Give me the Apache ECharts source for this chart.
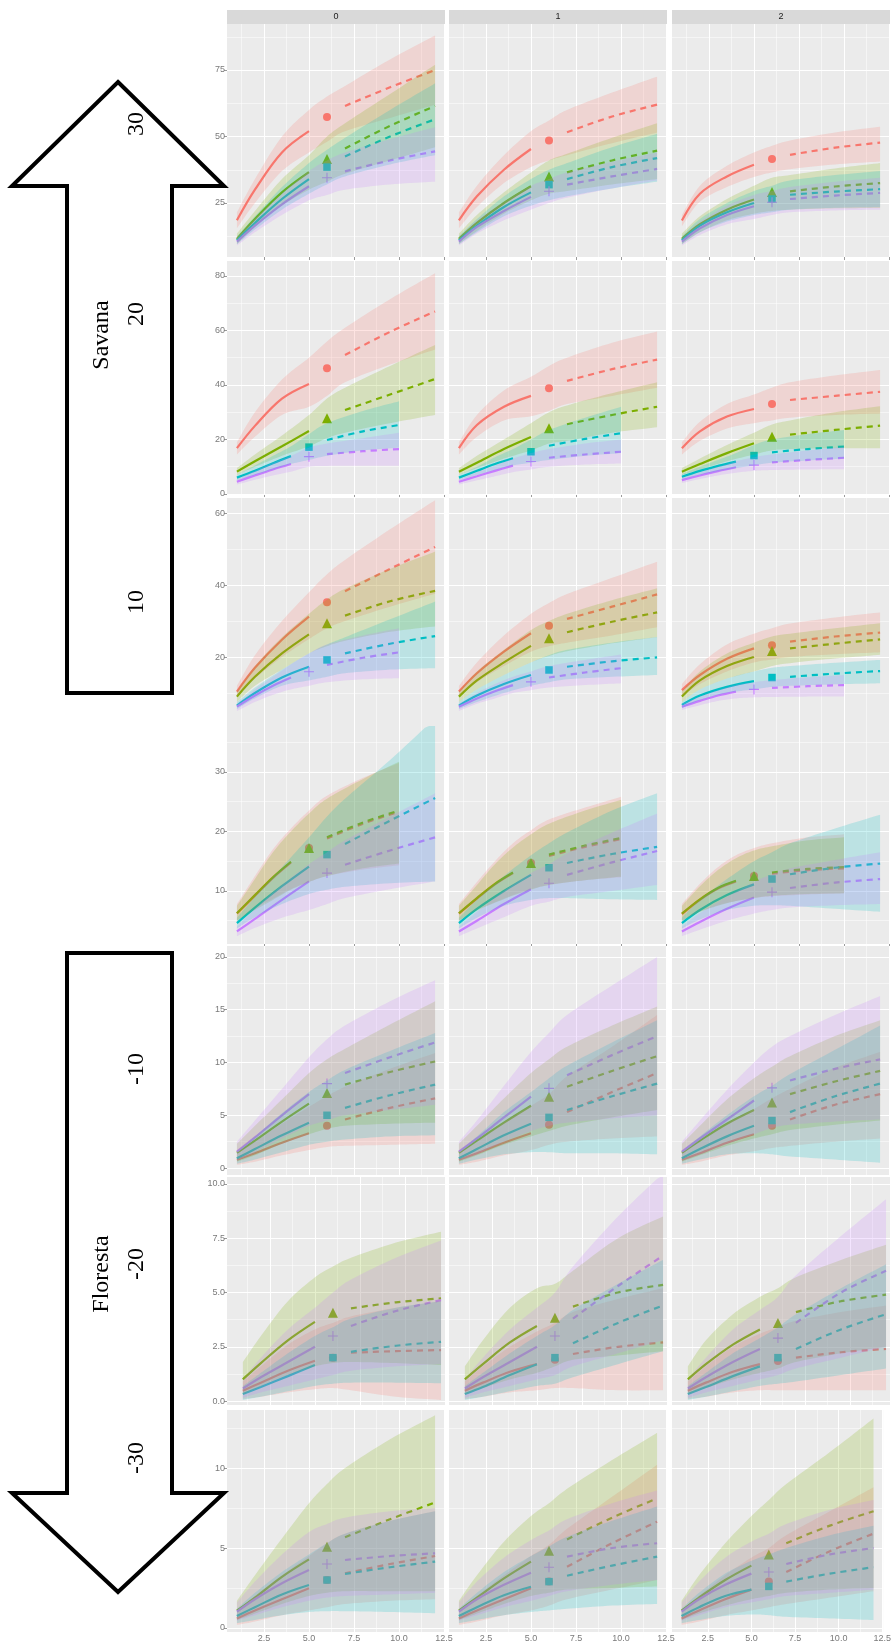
<!DOCTYPE html>
<html><head><meta charset="utf-8">
<script src="https://cdn.jsdelivr.net/npm/echarts@6/dist/echarts.min.js"></script>
<style>html,body{margin:0;padding:0;background:#fff}#c{width:894px;height:1652px}</style>
</head><body><div id="c"></div>
<script>
// ---------- data ----------
const facetLabels = ['0', '1', '2'];
const xTicks = [2.5, 5, 7.5, 10, 12.5];
const xMinorTicks = [1.25, 3.75, 6.25, 8.75, 11.25];
const yTicks = [[25,50,75],[0,20,40,60,80],[20,40,60],[10,20,30],[0,5,10,15,20],[0,2.5,5,7.5,10],[0,5,10]];
const yMinorTicks = [[12.5,37.5,62.5,87.5],[10,30,50,70],[10,30,50],[5,15,25,35],[2.5,7.5,12.5,17.5],[1.25,3.75,6.25,8.75],[2.5,7.5,12.5]];
// sample sizes (x positions) for reference size 6 and 5: interp | observed | extrap
const xs6 = [1, 2, 3.5, 5, 6, 7, 9.5, 12];
const xs5 = [1, 2, 3, 4, 5, 6, 8, 10];
// reference sample size per panel [red, green, cyan, purple]
const refSize = [
 [6,6,6,6],[6,6,6,6],[6,6,6,6],
 [6,6,5,5],[6,6,5,5],[6,6,5,5],
 [6,6,6,5],[6,6,6,5],[6,6,6,5],
 [5,5,6,6],[5,5,6,6],[5,5,6,6],
 [6,6,6,6],[6,6,6,6],[6,6,6,6],
 [6,6,6,6],[6,6,6,6],[6,6,6,6],
 [6,6,6,6],[6,6,6,6],[6,6,6,6]
];
const redEst = [
 [18.5,30,44,52,57.3,61.5,68.5,75],[18.5,27.5,37.5,45.3,48.5,51.6,57.5,62],[18.4,28.5,35,39.4,41.5,43.1,45.8,47.7],
 [16.8,25,35,40.4,46.1,51,59.5,67],[16.8,25.3,32,36,38.8,41.5,45.8,49.3],[16.8,23,28.4,31.2,33,34.5,36,37.5],
 [10.4,17,24.8,31.2,35.2,38.3,44.5,50.6],[10.4,15.5,21.5,26.6,28.7,30.6,34,37.4],[10.8,15,19.5,22.4,23.3,24.3,25.7,26.8],
 [6.2,9.2,12.2,14.8,17.2,18.8,21.3,23.3],[6.2,8.7,11.1,13,14.7,15.9,17.4,18.7],[6.1,8.5,10.4,11.6,12.5,12.9,13.5,13.8],
 [0.79,1.4,2.4,3.3,4,4.6,5.7,6.6],[0.79,1.4,2.4,3.3,4.1,5.3,7.2,9],[0.79,1.4,2.4,3.2,4,4.6,6,7],
 [0.48,0.85,1.4,1.86,2,2.23,2.3,2.35],[0.48,0.85,1.35,1.7,1.9,2.17,2.5,2.7],[0.48,0.85,1.35,1.7,1.85,2,2.25,2.4],
 [0.6,1.1,1.8,2.48,3,3.42,4,4.5],[0.6,1.1,1.8,2.48,2.9,3.83,5.3,6.65],[0.6,1.1,1.8,2.4,2.9,3.5,4.8,5.9]
];
const redLo = [
 [15.5,25,37,44,48,52,57,62],[15.5,23.5,32.5,38.5,41,43,47.5,51.5],[16.3,25.5,31,34.8,36.5,37.7,39.5,40.6],
 [14.5,21,29,32,36,41,47.5,53],[14.5,21,27,28.5,30.5,33,36,39],[14.5,19.5,24,26,27,28,29,29.5],
 [8.8,14,20,25,28,30,34,37.6],[9,13,17.5,21.5,23,24,26,28.3],[9,12.5,16,18.5,19.3,20,20.8,21.3],
 [5,7,8.7,10.3,11.5,12.5,13.6,14.3],[5,6.8,8.1,9.3,10.3,11,11.8,12.3],[5,6.5,7.6,8.3,8.8,9.1,9.4,9.6],
 [0.3,0.6,1.2,1.7,2,2.1,2.2,2.3],[0.3,0.6,1.2,1.7,2.2,2.5,2.8,3],[0.3,0.6,1.2,1.6,1.9,2.1,2.5,2.8],
 [0.1,0.2,0.4,0.55,0.6,0.5,0.2,0.05],[0.1,0.2,0.4,0.5,0.6,0.6,0.5,0.5],[0.1,0.2,0.4,0.5,0.5,0.5,0.5,0.5],
 [0.2,0.4,0.8,1.1,1.3,1.5,1.7,1.8],[0.2,0.4,0.8,1.1,1.4,1.8,2.4,3],[0.2,0.4,0.8,1.1,1.3,1.5,1.9,2.3]
];
const redHi = [
 [21.5,34,50,60,65,69,79,88],[21.5,31.5,43,52,56,60,66.5,72.5],[20.5,31.5,39,44,46.5,48.5,51.5,53.7],
 [19,30,42,50,56,61,71.5,81],[19,29,38,43,47,50,55.5,59.6],[19,26.5,33,36.5,39,41,43.5,45.5],
 [12,20.5,30,38,43,47,55.5,63.6],[12,18.5,26,32,35,37.5,42,46.5],[12.5,18,23.5,26.5,28,29.3,31,32.4],
 [7.8,12.5,17,20.5,23.5,26,29,31.5],[7.8,11.5,15,18,20.2,22,24,25.8],[7.8,11.2,14,16,17.2,18,19,19.5],
 [1.4,2.5,4.2,5.8,6.8,7.7,9.4,10.9],[1.4,2.5,4.3,5.9,7,8.7,11.5,14.5],[1.4,2.5,4.2,5.6,6.6,7.5,9.5,11],
 [0.9,1.6,2.6,3.3,3.6,3.9,4.3,4.6],[0.9,1.6,2.5,3.2,3.6,4.1,4.7,5.2],[0.9,1.6,2.5,3.1,3.4,3.7,4.1,4.4],
 [1,2,3.3,4.5,5.3,5.9,6.7,7.3],[1,2,3.3,4.5,5.2,6.2,8.2,10.2],[1,2,3.3,4.4,5,5.8,7.3,8.8]
];
const greenEst = [
 [11.5,19,29,36.6,41.5,45.5,54,61.5],[11.5,17.5,25,31.3,35,36.5,41,44.7],[11.5,17,22.5,26.3,29.1,29.4,31.2,32.5],
 [8.2,12,17.5,23.1,27.8,30.8,36.5,42.2],[8.2,11.5,16.5,20.9,24.1,25.6,29,32],[8.2,11,15,18.6,21,21.8,23.5,25.1],
 [9,14.5,21,26.3,29.4,31.5,35.5,38.4],[9,13.5,18.5,23.1,25.2,26.9,29.8,32.4],[9,13.5,17.5,20,21.7,22.4,23.7,24.9],
 [6.25,9.3,12.3,14.9,17.2,19,21.5,23.5],[6.25,8.8,11.2,13.1,14.7,16.1,17.6,18.9],[6.2,8.6,10.5,11.7,12.5,13.1,13.7,14],
 [1.45,2.6,4.4,6.1,7.1,7.9,9.1,10.1],[1.45,2.6,4.3,5.9,6.76,7.7,9.2,10.6],[1.45,2.6,4.2,5.5,6.2,7,8.2,9.2],
 [1,1.75,2.8,3.65,4.07,4.27,4.55,4.73],[1,1.7,2.7,3.46,3.84,4.35,5,5.35],[1,1.7,2.6,3.3,3.6,4.1,4.6,4.9],
 [1.08,1.9,3.2,4.29,5.08,5.67,6.8,7.85],[1.08,1.9,3.1,4.15,4.83,5.54,6.9,8.1],[1.08,1.9,3,3.9,4.6,5.3,6.4,7.3]
];
const greenLo = [
 [9.5,16,24,30,33,36,41,46],[9.5,14.5,21,26,28.5,29.5,32,34],[9.5,14,18.5,21,22,22.5,23,23.1],
 [7,10,14,17.5,20.5,22.5,26,29],[7,9.5,13,16,18.5,19.5,22.5,24.5],[7,9,12,14.5,16,16.5,16.8,16.8],
 [7.5,12,16.5,21,23,24.5,27,28.5],[7.5,11,15,18.5,20.3,21.6,23.8,25.5],[7.5,11,14,16,17.5,18.3,19.6,20.6],
 [5,6.8,8.5,10.2,11.5,12.5,13.8,14.6],[5,6.7,8,9.2,10.2,11,11.8,12.4],[5,6.5,7.5,8.3,8.8,9.2,9.5,9.6],
 [0.6,1.2,2.3,3.2,3.7,4,4.2,4.3],[0.6,1.2,2.2,3,3.5,4,4.8,5.5],[0.6,1.2,2.1,2.8,3.2,3.6,4.1,4.5],
 [0.3,0.7,1.2,1.6,1.75,1.8,1.75,1.66],[0.3,0.6,1,1.3,1.6,1.9,2.1,2.3],[0.3,0.6,1,1.3,1.5,1.8,2.2,2.5],
 [0.5,0.9,1.5,2,2.2,2.3,2.3,2.3],[0.5,0.9,1.5,2,2.2,2.4,2.5,2.6],[0.5,0.9,1.4,1.8,2,2.2,2.4,2.5]
];
const greenHi = [
 [13.5,22,34,43,50,55,66,77],[13.5,20.5,29,36.5,41,43.5,49.5,55],[13.5,20,26.5,31.5,34.5,35.5,38,40],
 [9.5,14.5,21.5,29,35,39,47,54.7],[9.5,14,20,26,30,32.5,37,41],[9.5,13,18,22.5,25.5,27,30,32.2],
 [10.5,17.5,25.5,32,36,39,44.5,49.3],[10.5,16,22,27.5,30,32,35.8,39.1],[10.5,16,21,24,25.7,26.5,28,29.4],
 [7.5,12,16.5,20,23,25.5,28.8,31.7],[7.5,11,14.5,17.3,19.5,21.3,23.5,25.3],[7.5,10.8,13.5,15.5,16.8,17.5,18.5,19],
 [2.3,4,6.5,9,10.3,11.3,13.6,15.8],[2.3,4,6.6,9,10.3,11.5,13.5,15.3],[2.3,4,6.5,8.5,9.6,10.6,12.5,14],
 [1.8,3,4.6,5.7,6.2,6.6,7.3,7.8],[1.6,2.8,4.3,5.2,5.4,6,7.5,8.5],[1.6,2.8,4,4.8,5.2,5.7,6.5,7.2],
 [1.7,3.3,5.6,7.8,9,10,11.8,13.3],[1.7,3.3,5.4,7,7.8,8.7,10.5,12.2],[1.7,3.3,5.3,7,8,9,11,13.1]
];
const cyanEst = [
 [11,17.5,26.5,34,38.5,42.5,50,56.5],[11,16.5,23.5,29,31.9,34,38.5,41.9],[11,16.5,21.5,25,26.5,28.1,29.3,30.2],
 [6,8.5,11.3,13.9,17.2,19.8,23,25.3],[6,8.5,11,13.1,15.5,17.7,20.2,22.3],[6.3,8.5,10.3,11.9,14.1,15.3,16.5,17.4],
 [6.5,10,14.3,17.3,19.2,21,23.7,25.8],[6.5,9.3,12.5,15,16.4,17.3,18.8,19.9],[6.7,9.3,11.7,13.3,14.3,14.5,15.4,16.1],
 [4.6,7.2,10.8,14.1,16.1,17.9,21.8,25.6],[4.6,7,10,12.7,13.9,14.7,16.2,17.4],[4.6,6.8,9.3,11.1,12,12.8,13.9,14.6],
 [0.92,1.8,3.1,4.3,5,5.7,6.9,7.9],[0.92,1.8,3.1,4.2,4.8,5.5,6.8,8],[0.92,1.8,3,4,4.5,5.3,6.8,8],
 [0.33,0.65,1.15,1.66,2,2.27,2.55,2.73],[0.33,0.65,1.2,1.7,2,2.66,3.6,4.4],[0.33,0.65,1.15,1.6,2,2.4,3.3,4],
 [0.75,1.3,2.1,2.69,3,3.38,3.8,4.15],[0.75,1.3,2.05,2.58,2.9,3.27,3.9,4.46],[0.75,1.3,2,2.4,2.6,2.9,3.4,3.8]
];
const cyanLo = [
 [9.5,15,22.5,28.5,32,35,39.5,43],[9.5,14,20,24,26,27.5,30.5,33],[9.5,14,18,20.5,21.5,22.5,23.2,23.5],
 [5,7,9,11,12.5,14,16,17],[5,7,8.8,10.5,11.5,12.5,14,15],[5.3,7,8.3,9.5,10.5,11.5,12.3,13],
 [5.5,8.5,12,13.5,14.5,15.5,16.5,16.9],[5.5,7.5,10,12,13,13.8,14.5,15],[5.8,8,10,11,11.7,12,12.4,12.7],
 [3.7,5.6,7.8,9.5,10.2,10.7,11.3,11.6],[3.7,5.5,7.5,8.5,8.8,8.8,8.6,8.5],[3.7,5.2,6.8,7.5,7.6,7.5,7,6.5],
 [0.4,0.8,1.5,2.2,2.5,2.7,3,3.1],[0.4,0.8,1.3,1.5,1.5,1.4,1.4,1.3],[0.4,0.8,1.3,1.4,1.3,1.1,0.8,0.5],
 [0.05,0.2,0.45,0.7,0.8,0.85,0.85,0.82],[0.05,0.2,0.45,0.7,0.8,1.1,1.7,2.3],[0.05,0.2,0.45,0.7,0.8,0.9,1.2,1.5],
 [0.3,0.5,0.8,1,1.05,1.05,1,0.92],[0.3,0.5,0.8,1,1.1,1.2,1.4,1.5],[0.3,0.5,0.75,0.85,0.8,0.7,0.6,0.5]
];
const cyanHi = [
 [12.5,20,31,40,45,49.5,60,70],[12.5,19,27.5,34,37.5,40,46,51],[12.5,19,25,29.5,31.5,33.5,35.5,37],
 [7,10.5,14,17.5,22,26,30.5,34],[7,10,13.5,16.5,20,23.5,28,32],[7.3,10,12.5,15,18,20,22,23.5],
 [7.5,11.5,16.5,21,23.5,25.5,30.5,35.4],[7.5,11,15,18.5,20.5,22,24,25.6],[7.5,11,14,16,17,17.5,18.4,19.2],
 [5.5,9,14,19,22.5,25.5,32,39],[5.5,8.5,12.5,16,18,19.8,23.5,26.4],[5.5,8.5,12,15,16.5,18,20.5,22.8],
 [1.6,3,5.2,7.2,8.3,9.3,11.1,12.8],[1.6,3,5.3,7.2,8.5,9.7,11.9,14],[1.6,3,5,6.8,7.8,8.9,11.2,13.5],
 [0.7,1.3,2.2,3,3.4,3.8,4.3,4.6],[0.7,1.3,2.2,3,3.5,4.2,5.4,6.5],[0.7,1.3,2.2,2.9,3.4,4,5.2,6.3],
 [1.2,2.2,3.5,4.6,5.3,5.9,6.7,7.3],[1.2,2.2,3.5,4.5,5.1,5.7,6.7,7.6],[1.2,2.2,3.4,4.2,4.6,5,5.8,6.4]
];
const purpleEst = [
 [10.5,16.5,24.5,31.3,34.5,36.9,41,44.4],[10.5,16,22,27.3,29.4,31.9,35,37.8],[10.5,15.5,20.5,23.8,25.3,26.5,27.8,28.8],
 [4.5,6.8,9,11,13.7,14.6,15.7,16.5],[4.5,6.5,8.5,10.4,11.9,13.3,14.5,15.5],[5.1,6.8,8.4,9.8,10.6,11.6,12.5,13.3],
 [6.2,9.3,12,14.3,15.9,17.8,19.8,21.3],[6.2,8.5,10.5,12.2,13.1,14.3,15.7,16.9],[6.2,7.8,9.3,10.4,11,11.4,11.9,12.2],
 [3.2,5.3,8.5,11.6,13,14.4,16.8,19],[3.2,5,7.8,10.3,11.3,12.7,14.8,16.7],[3.2,4.8,7,8.9,9.8,10.5,11.4,12],
 [1.55,2.9,5,7,8,9,10.5,11.9],[1.55,2.8,4.8,6.76,7.55,8.8,10.7,12.5],[1.55,2.8,4.6,6.4,7.6,8.3,9.4,10.3],
 [0.58,1.1,1.8,2.5,3,3.46,4.15,4.65],[0.58,1.1,1.8,2.5,3,3.8,5.3,6.7],[0.58,1.1,1.8,2.4,2.9,3.6,5,6],
 [1.02,1.8,2.8,3.63,4,4.25,4.5,4.67],[1.02,1.8,2.7,3.46,3.8,4.46,5,5.3],[1.02,1.8,2.7,3.4,3.5,4,4.6,5]
];
const purpleLo = [
 [9,14,20.5,26,28,30,32,33],[9,13.5,18.5,22.5,25,27,30.5,33.5],[9,13,17,19,20.5,21.5,22.2,22.5],
 [3.5,5.2,6.8,8.2,10,10.3,10.4,10.4],[3.5,5,6.5,8,9,10,10.8,11.2],[4,5.5,6.8,7.8,8.5,8.8,9,9.1],
 [5,7.5,9.5,11,12,13,13.8,14.1],[5,7,8.5,10,10.8,11.5,12.2,12.7],[5.3,6.6,7.8,8.5,8.8,8.9,9,9],
 [2.4,3.8,5.5,6.8,7.8,8.8,10.3,11.6],[2.4,3.7,5.6,7.5,8.2,9,10,11],[2.4,3.5,5,6.2,6.8,7.2,7.6,7.8],
 [0.7,1.5,2.8,4,4.5,5,5.5,6],[0.7,1.3,2.5,3.5,4,4.3,4.7,5],[0.7,1.3,2.3,3.2,3.8,4.1,4.4,4.6],
 [0.15,0.4,0.7,1,1.2,1.4,1.6,1.7],[0.15,0.4,0.7,1,1.2,1.6,2.2,2.8],[0.15,0.4,0.7,1,1.2,1.5,2,2.5],
 [0.45,0.8,1.3,1.7,1.9,2,2.1,2.2],[0.45,0.8,1.3,1.7,2,2.3,2.7,3],[0.45,0.8,1.3,1.6,1.8,2,2.2,2.4]
];
const purpleHi = [
 [12,19,28.5,37,41,44,49,53.5],[12,18.5,25.5,31.5,34,36.5,40.5,44],[12,18,24,28,29.5,31,33,34.5],
 [5.5,8.5,11.5,14,17,18.5,20.5,22.5],[5.5,8,10.5,13,15,16.5,18.5,20],[6,8,10,12,13.5,14.5,16,17.3],
 [7,11,14.5,18,21,23.5,26,28],[7,10,12.5,14.5,16,17.5,19.2,20.7],[7,9,10.8,12.3,13,13.6,14.4,15],
 [4,7,11,14.5,16.5,18.5,22.5,26.4],[4,6.5,10,13,14.5,16.3,19.8,23],[4,6.3,9,11.5,12.8,13.8,15.2,16.5],
 [2.5,4.5,7.5,10.5,12.2,13.5,15.8,17.8],[2.5,4.5,7.8,11,12.8,14.5,17.3,20],[2.5,4.5,7.4,10,11.5,12.5,14.5,16.3],
 [1,2,3.3,4.3,5,5.6,6.6,7.4],[1,2,3.3,4.3,5,6.2,8.5,10.5],[1,2,3.3,4.2,4.8,5.8,7.6,9.3],
 [1.6,2.9,4.6,6,6.5,6.9,7.3,7.5],[1.6,2.9,4.4,5.5,6.1,6.8,7.8,8.6],[1.6,2.9,4.4,5.4,5.9,6.5,7.4,8]
];

// ---------- layout ----------
const colLeft = [227, 449, 672];
const panelWidth = 218;
const rowTop = [24, 261, 498, 726, 946, 1177, 1410];
const rowBottom = [257, 495, 726, 944, 1175, 1405, 1632];
const rowYMin = [4.7, -0.37, 0.83, 1.09, -0.66, -0.18, -0.25];
const rowYMax = [92.3, 85.5, 64.2, 37.7, 21.04, 10.32, 13.63];
const rowXMin = [0.45, 0.45, 0.45, 0.45, 0.45, 0.12, 0.45];
const rowXMax = [12.55, 12.55, 12.55, 12.55, 12.55, 12.22, 12.55];

const groups = [
  {color: '#F8766D', rgb: '248,118,109', est: redEst, lo: redLo, hi: redHi, symbol: 'circle', size: 8},
  {color: '#7CAE00', rgb: '124,174,0', est: greenEst, lo: greenLo, hi: greenHi, symbol: 'triangle', size: 10},
  {color: '#00BFC4', rgb: '0,191,196', est: cyanEst, lo: cyanLo, hi: cyanHi, symbol: 'rect', size: 7.5},
  {color: '#C77CFF', rgb: '199,124,255', est: purpleEst, lo: purpleLo, hi: purpleHi, symbol: 'path://M4.45,0H5.55V10H4.45Z M0,4.45H10V5.55H0Z', size: 10}
];

// Catmull-Rom curve through pixel points (rendering of a smooth ribbon edge)
function smoothPts(pts, steps) {
  const out = [];
  const n = pts.length;
  for (let i = 0; i < n - 1; i++) {
    const p0 = pts[Math.max(i - 1, 0)], p1 = pts[i], p2 = pts[i + 1], p3 = pts[Math.min(i + 2, n - 1)];
    for (let s = 0; s < steps; s++) {
      const t = s / steps, t2 = t * t, t3 = t2 * t;
      const f = d => 0.5 * (2 * p1[d] + (-p0[d] + p2[d]) * t + (2 * p0[d] - 5 * p1[d] + 4 * p2[d] - p3[d]) * t2 + (-p0[d] + 3 * p1[d] - 3 * p2[d] + p3[d]) * t3);
      out.push([f(0), f(1)]);
    }
  }
  out.push(pts[n - 1]);
  return out;
}

const chart = echarts.init(document.getElementById('c'), null, {renderer: 'canvas'});
const grids = [], xAxes = [], yAxes = [], series = [], graphics = [];
const labelFont = 'Liberation Sans';

for (let p = 0; p < 21; p++) {
  const r = Math.floor(p / 3), c = p % 3;
  grids.push({left: colLeft[c], top: rowTop[r], width: panelWidth, height: rowBottom[r] - rowTop[r],
    show: true, backgroundColor: '#EBEBEB', borderWidth: 0, containLabel: false});
  const lastRow = r === 6;
  xAxes.push({type: 'value', gridIndex: p, min: rowXMin[r], max: rowXMax[r],
    axisLine: {show: false}, splitLine: {show: false},
    axisTick: {show: true, customValues: xTicks, length: 3, lineStyle: {color: '#9a9a9a', width: 1}},
    axisLabel: {show: lastRow, customValues: xTicks, formatter: v => v.toFixed(1), color: '#7a7a7a',
      fontSize: 9, fontFamily: labelFont, margin: 2}});
  yAxes.push({type: 'value', gridIndex: p, min: rowYMin[r], max: rowYMax[r],
    axisLine: {show: false}, splitLine: {show: false},
    axisTick: {show: c === 0, customValues: yTicks[r], length: 3, lineStyle: {color: '#9a9a9a', width: 1}},
    axisLabel: {show: c === 0, customValues: yTicks[r], formatter: v => (r === 5 ? v.toFixed(1) : String(v)),
      color: '#7a7a7a', fontSize: 9, fontFamily: labelFont, margin: 2}});
  // gridlines
  const ml = [];
  yTicks[r].forEach(v => ml.push({yAxis: v, lineStyle: {width: 1.1}}));
  yMinorTicks[r].forEach(v => ml.push({yAxis: v, lineStyle: {width: 0.5}}));
  xTicks.forEach(v => ml.push({xAxis: v, lineStyle: {width: 1.1}}));
  xMinorTicks.forEach(v => ml.push({xAxis: v, lineStyle: {width: 0.5}}));
  series.push({type: 'line', xAxisIndex: p, yAxisIndex: p, data: [], silent: true, z: 1,
    markLine: {silent: true, symbol: ['none', 'none'], z: 1, animation: false, label: {show: false},
      lineStyle: {color: '#ffffff', type: 'solid'}, emphasis: {disabled: true}, data: ml}});

  groups.forEach((g, gi) => {
    const n = refSize[p][gi];
    const xs = n === 6 ? xs6 : xs5;
    const est = g.est[p], lo = g.lo[p], hi = g.hi[p];
    // ribbon
    series.push({type: 'custom', xAxisIndex: p, yAxisIndex: p, silent: true, z: 4, clip: true,
      data: [[xs[0], lo[0]]],
      renderItem: (params, api) => {
        const cs = params.coordSys;
        const clampY = q => [q[0], Math.max(cs.y, Math.min(cs.y + cs.height, q[1]))];
        const top = smoothPts(xs.map((x, k) => api.coord([x, hi[k]])), 10).map(clampY);
        const bot = smoothPts(xs.map((x, k) => api.coord([x, lo[k]])), 10).map(clampY).reverse();
        return {type: 'polygon', shape: {points: top.concat(bot)},
          style: {fill: 'rgba(' + g.rgb + ',0.2)', stroke: null}};
      }});
    series.push({type: 'line', xAxisIndex: p, yAxisIndex: p, smooth: 0.35, symbol: 'none', silent: true, z: 3,
      lineStyle: {color: g.color, width: 2.2}, data: xs.slice(0, 4).map((x, k) => [x, est[k]])});
    series.push({type: 'line', xAxisIndex: p, yAxisIndex: p, smooth: 0.35, symbol: 'none', silent: true, z: 3,
      lineStyle: {color: g.color, width: 2.2, type: [6, 5]}, data: xs.slice(5).map((x, k) => [x, est[k + 5]])});
    series.push({type: 'scatter', xAxisIndex: p, yAxisIndex: p, silent: true, z: 3,
      symbol: g.symbol, symbolSize: g.size, itemStyle: {color: g.color, opacity: 1},
      data: [[xs[4], est[4]]]});
  });
}

// facet strips (top row)
for (let c = 0; c < 3; c++) {
  graphics.push({type: 'rect', shape: {x: colLeft[c], y: 10, width: panelWidth, height: 14},
    style: {fill: '#D9D9D9'}, silent: true, z: 10});
  graphics.push({type: 'text', x: colLeft[c] + panelWidth / 2, y: 17,
    style: {text: facetLabels[c], fill: '#1a1a1a', fontSize: 9, fontFamily: labelFont, align: 'center', verticalAlign: 'middle'},
    silent: true, z: 11});
}
// arrows
graphics.push({type: 'polygon', shape: {points: [[118,82],[224,186],[172,186],[172,693],[67,693],[67,186],[12,186]]},
  style: {fill: '#ffffff', stroke: '#000000', lineWidth: 4, lineJoin: 'miter'}, silent: true, z: 20});
graphics.push({type: 'polygon', shape: {points: [[67,953],[172,953],[172,1493],[224,1493],[118,1592],[12,1493],[67,1493]]},
  style: {fill: '#ffffff', stroke: '#000000', lineWidth: 4, lineJoin: 'miter'}, silent: true, z: 20});
const arrowTexts = [
  ['30', 137, 124], ['20', 137, 314], ['Savana', 102, 335], ['10', 137, 602],
  ['-10', 137, 1069], ['Floresta', 102, 1274], ['-20', 137, 1264], ['-30', 137, 1458]
];
arrowTexts.forEach(t => graphics.push({type: 'text', x: t[1], y: t[2], rotation: Math.PI / 2,
  style: {text: t[0], fill: '#000', fontSize: 24, fontFamily: 'Liberation Serif', align: 'center', verticalAlign: 'middle'},
  silent: true, z: 21}));

chart.setOption({
  animation: false,
  backgroundColor: '#ffffff',
  grid: grids, xAxis: xAxes, yAxis: yAxes, series: series,
  graphic: {elements: graphics}
});
</script>
</body></html>
